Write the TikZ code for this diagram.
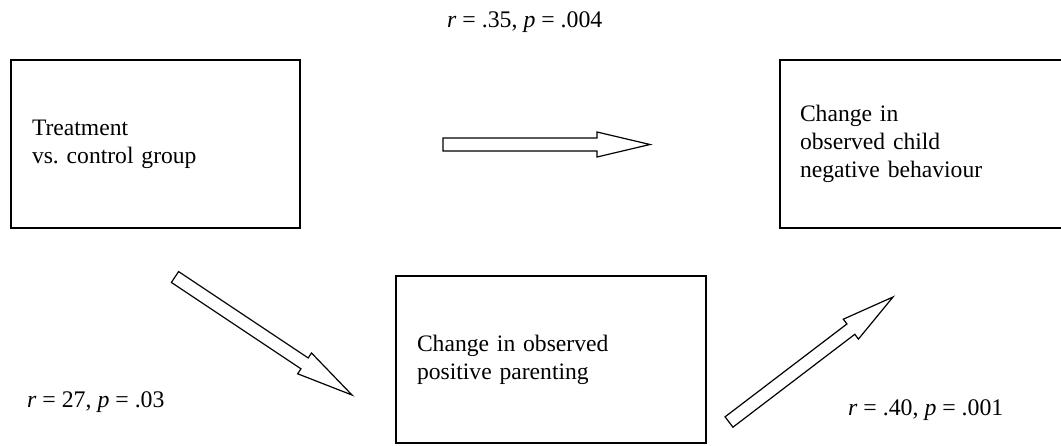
\documentclass[tikz,border=0pt]{standalone}
\usepackage{fontspec}
\setmainfont{Liberation Serif}
\usetikzlibrary{calc}
\tikzset{
  boxnode/.style={draw, line width=1.6pt, rectangle, anchor=center, inner sep=0pt,
    align=left, font=\fontsize{23.6}{28}\selectfont},
  lbl/.style={anchor=base west, inner sep=0pt, font=\fontsize{23.8}{28}\selectfont},
  blockarr/.style={draw, line width=1.2pt, line join=miter, fill=white}
}
\newcommand\barrow[3]{%
  \coordinate (#1-h) at ($(#2)!#3pt!(#1)$);
  \draw[blockarr]
    ($(#1)!6.5pt!90:(#2)$) -- ($(#1-h)!6.5pt!-90:(#1)$) -- ($(#1-h)!12.5pt!-90:(#1)$)
    -- (#2) -- ($(#1-h)!12.5pt!90:(#1)$) -- ($(#1-h)!6.5pt!90:(#1)$)
    -- ($(#1)!6.5pt!-90:(#2)$) -- cycle;}
\begin{document}
\begin{tikzpicture}[x=1pt,y=-1pt]
\useasboundingbox (0,0) rectangle (1061,445);
\clip (0,0) rectangle (1061,445);
% boxes
\node[boxnode, minimum width=289pt, minimum height=168pt, text width=247pt]
  (treat) at (155.5,144) {Treatment\\vs.\ control group};
\node[boxnode, minimum width=300pt, minimum height=168pt, text width=260pt]
  (child) at (930,144) {Change in\\observed child\\negative behaviour};
\node[boxnode, minimum width=310pt, minimum height=167pt, text width=268pt]
  (parent) at (551,359.5) {Change in observed\\positive parenting};
% block arrows
\coordinate (t1) at (443,144.5); \coordinate (e1) at (650,144.5);
\coordinate (t2) at (175,277);   \coordinate (e2) at (352,395);
\coordinate (t3) at (729,422);   \coordinate (e3) at (893,297);
\barrow{t1}{e1}{53}
\barrow{t2}{e2}{57}
\barrow{t3}{e3}{53}
% labels
\node[lbl] (l1) at (447,27) {\textit{r} = .35, \textit{p} = .004};
\node[lbl] (l2) at (27,407) {\textit{r} = 27, \textit{p} = .03};
\node[lbl] (l3) at (848,415) {\textit{r} = .40, \textit{p} = .001};
\end{tikzpicture}
\end{document}
